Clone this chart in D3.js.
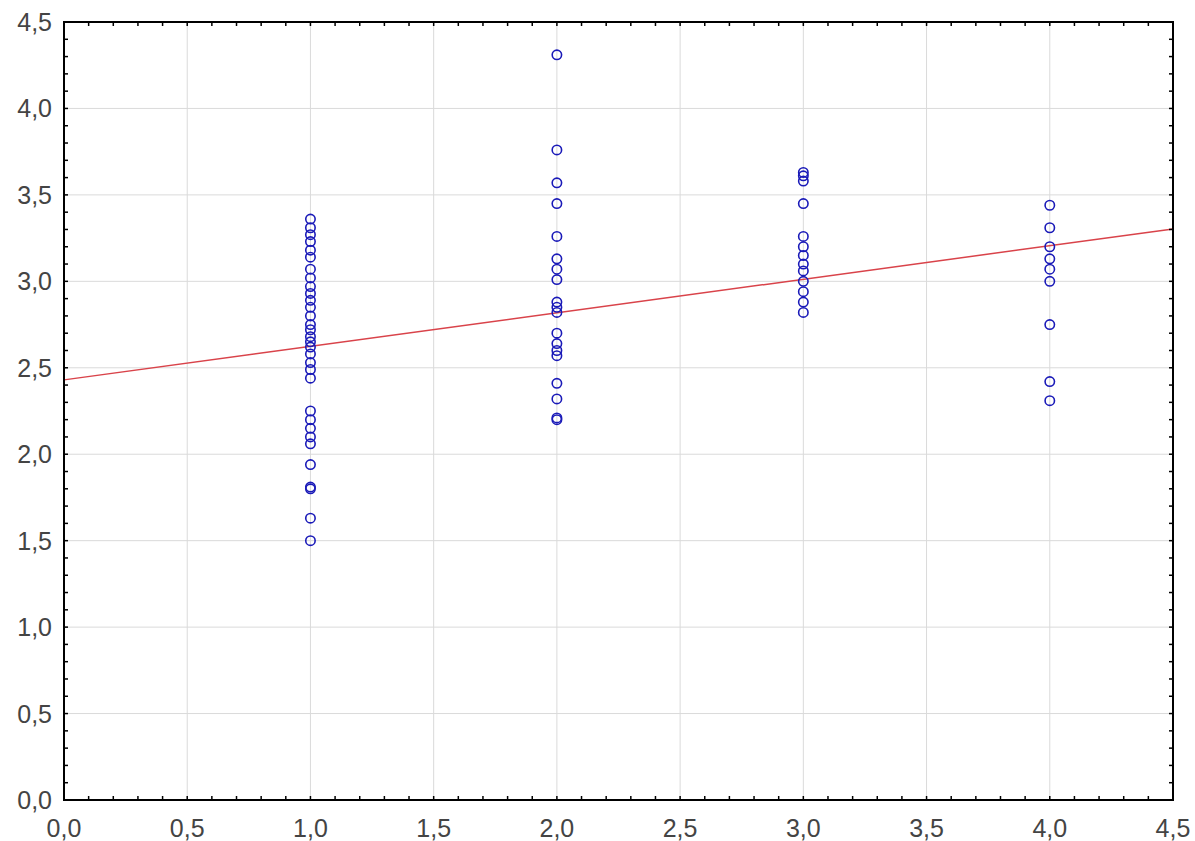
<!DOCTYPE html>
<html>
<head>
<meta charset="utf-8">
<script src="https://cdn.jsdelivr.net/npm/d3@7"></script>
<style>
  body { margin: 0; background: #fff; }
  text { font-family: "Liberation Sans", Arial, sans-serif; }
</style>
</head>
<body>
<svg id="chart" width="1195" height="841"></svg>
<script>
// scatter values, one array per group on the x axis
var group1 = [3.36, 3.31, 3.27, 3.23, 3.18, 3.14, 3.07, 3.02, 2.97, 2.93, 2.89, 2.85, 2.80, 2.75, 2.72, 2.68,
              2.65, 2.62, 2.58, 2.53, 2.49, 2.44, 2.25, 2.20, 2.15, 2.10, 2.06, 1.94, 1.81, 1.80, 1.63, 1.50];
var group2 = [4.31, 3.76, 3.57, 3.45, 3.26, 3.13, 3.07, 3.01, 2.88, 2.85, 2.82, 2.70, 2.64, 2.60,
              2.57, 2.41, 2.32, 2.21, 2.20];
var group3 = [3.63, 3.61, 3.58, 3.45, 3.26, 3.20, 3.15, 3.10, 3.06, 3.00, 2.94, 2.88, 2.82];
var group4 = [3.44, 3.31, 3.20, 3.13, 3.07, 3.00, 2.75, 2.42, 2.31];
var groupX = [1, 2, 3, 4];

// fitted line y = a + b*x
var fitA = 2.43;
var fitB = 0.194;

var majorTicks = [0, 0.5, 1, 1.5, 2, 2.5, 3, 3.5, 4, 4.5];
var minorTicks = d3.range(0, 46).map(function (d) { return d / 10; });

var svg = d3.select("#chart");
var pLeft = 64, pRight = 1173, pTop = 22, pBottom = 800;

var x = d3.scaleLinear().domain([0, 4.5]).range([pLeft, pRight]);
var y = d3.scaleLinear().domain([0, 4.5]).range([pBottom, pTop]);

var fmt = function (d) { return d3.format(".1f")(d).replace(".", ","); };

// grid
svg.append("g").selectAll("line").data(majorTicks.slice(1, -1)).enter().append("line")
    .attr("x1", function (d) { return x(d); }).attr("x2", function (d) { return x(d); })
    .attr("y1", pTop).attr("y2", pBottom)
    .attr("stroke", "#dadada").attr("stroke-width", 1);
svg.append("g").selectAll("line").data(majorTicks.slice(1, -1)).enter().append("line")
    .attr("y1", function (d) { return y(d); }).attr("y2", function (d) { return y(d); })
    .attr("x1", pLeft).attr("x2", pRight)
    .attr("stroke", "#dadada").attr("stroke-width", 1);

// regression line
svg.append("line")
    .attr("x1", x(0)).attr("y1", y(fitA))
    .attr("x2", x(4.5)).attr("y2", y(fitA + fitB * 4.5))
    .attr("stroke", "#d9434a").attr("stroke-width", 1.5);

// points
var groups = [group1, group2, group3, group4];
var points = [];
for (var i = 0; i < groups.length; i++) {
    for (var j = 0; j < groups[i].length; j++) {
        points.push({ x: groupX[i], y: groups[i][j] });
    }
}
svg.append("g").selectAll("circle").data(points).enter().append("circle")
    .attr("cx", function (d) { return x(d.x); })
    .attr("cy", function (d) { return y(d.y); })
    .attr("r", 4.7)
    .attr("fill", "none").attr("stroke", "#1a1ab8").attr("stroke-width", 1.6);

// axes: ticks pointing inward on all four sides
var tickLen = 4;
var frame = svg.append("g");
minorTicks.forEach(function (d) {
    frame.append("line").attr("x1", x(d)).attr("x2", x(d)).attr("y1", pBottom).attr("y2", pBottom - tickLen)
        .attr("stroke", "#000").attr("stroke-width", 1.5);
    frame.append("line").attr("x1", x(d)).attr("x2", x(d)).attr("y1", pTop).attr("y2", pTop + tickLen)
        .attr("stroke", "#000").attr("stroke-width", 1.5);
    frame.append("line").attr("y1", y(d)).attr("y2", y(d)).attr("x1", pLeft).attr("x2", pLeft + tickLen)
        .attr("stroke", "#000").attr("stroke-width", 1.5);
    frame.append("line").attr("y1", y(d)).attr("y2", y(d)).attr("x1", pRight).attr("x2", pRight - tickLen)
        .attr("stroke", "#000").attr("stroke-width", 1.5);
});
frame.append("rect").attr("x", pLeft).attr("y", pTop).attr("width", pRight - pLeft).attr("height", pBottom - pTop)
    .attr("fill", "none").attr("stroke", "#000").attr("stroke-width", 2);

// tick labels
svg.append("g").selectAll("text").data(majorTicks).enter().append("text")
    .attr("x", 52).attr("y", function (d) { return y(d); })
    .attr("dy", "0.36em").attr("text-anchor", "end")
    .attr("font-size", 25).attr("fill", "#444")
    .text(fmt);
svg.append("g").selectAll("text").data(majorTicks).enter().append("text")
    .attr("x", function (d) { return x(d); }).attr("y", 837)
    .attr("text-anchor", "middle")
    .attr("font-size", 25).attr("fill", "#444")
    .text(fmt);
</script>
</body>
</html>
